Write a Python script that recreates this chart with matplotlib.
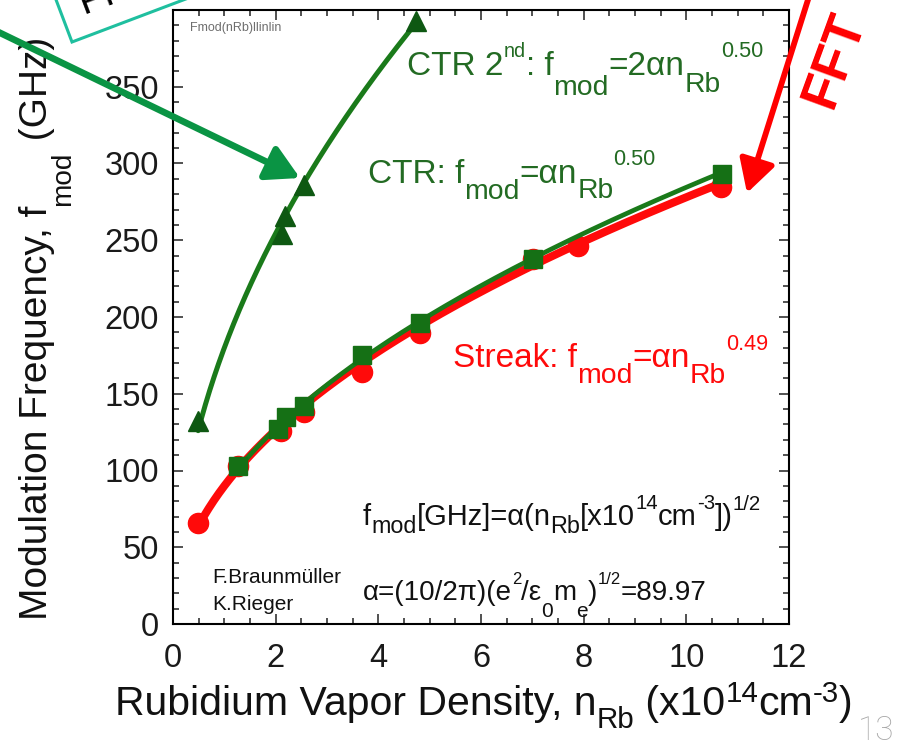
import numpy as np
import matplotlib
matplotlib.use("Agg")
import matplotlib.pyplot as plt
from matplotlib.ticker import MultipleLocator
from matplotlib.patches import Rectangle
from matplotlib.transforms import IdentityTransform

FONT = "Liberation Sans"
plt.rcParams["font.family"] = [FONT, "DejaVu Sans"]

# ---------------- data ----------------
ctr2_x = [0.49, 2.13, 2.18, 2.55, 4.73]
ctr2_y = [132, 254, 266, 286, 393]
ctr_x = [1.27, 2.05, 2.20, 2.55, 3.68, 4.81, 7.02, 10.70]
ctr_y = [103, 127, 135, 142, 175, 196, 238, 293]
streak_x = [0.49, 1.27, 2.10, 2.55, 3.68, 4.81, 7.02, 7.88, 10.68]
streak_y = [65.5, 103, 126, 138, 164, 189.5, 238, 246, 285]

# fit parameters stated on the chart
alpha = 89.97
ctr2_factor, ctr2_exp = 2.0, 0.50
ctr_exp = 0.50
streak_exp = 0.49

x_ticks = [0, 2, 4, 6, 8, 10, 12]
y_ticks = [0, 50, 100, 150, 200, 250, 300, 350]

GREEN_TXT = "#236b23"
GREEN_LINE = "#1a7a1a"
GREEN_SQ = "#157015"
GREEN_TRI = "#0e5812"
RED = "#ff0a0a"

fig = plt.figure(figsize=(9, 7.47), dpi=100)
ax = fig.add_axes([173 / 900, 1 - 624 / 747, 616 / 900, 614 / 747])
ax.set_xlim(0, 12)
ax.set_ylim(0, 400)

# fit curves
xs = np.linspace(min(streak_x), max(streak_x), 300)
ax.plot(xs, alpha * xs ** streak_exp, color=RED, lw=5.8, solid_capstyle="round", zorder=2)
ax.plot(streak_x, streak_y, "o", color=RED, ms=14.5, mec=RED, zorder=3)

xs = np.linspace(min(ctr_x), max(ctr_x), 300)
ax.plot(xs, alpha * xs ** ctr_exp, color=GREEN_LINE, lw=3.4, solid_capstyle="round", zorder=4)
ax.plot(ctr_x, ctr_y, "s", color=GREEN_SQ, ms=13, mec=GREEN_SQ, zorder=5)

xs = np.linspace(min(ctr2_x), max(ctr2_x), 300)
ax.plot(xs, ctr2_factor * alpha * xs ** ctr2_exp, color=GREEN_LINE, lw=3.6, solid_capstyle="round", zorder=4)
ax.plot(ctr2_x, ctr2_y, "^", color=GREEN_TRI, ms=14, mec=GREEN_TRI, zorder=5)

# axes styling
for s in ax.spines.values():
    s.set_linewidth(1.5)
ax.set_xticks(x_ticks)
ax.set_yticks(y_ticks)
ax.xaxis.set_minor_locator(MultipleLocator(0.5))
ax.yaxis.set_minor_locator(MultipleLocator(10))
ax.tick_params(which="both", direction="in", top=True, right=True, width=1.1, color="#222222")
ax.tick_params(which="major", length=7)
ax.tick_params(which="minor", length=4.5)
ax.tick_params(axis="x", which="major", labelsize=23.5, pad=14)
ax.tick_params(axis="y", which="major", labelsize=23.5, pad=10)
for lab in ax.get_xticklabels() + ax.get_yticklabels():
    lab.set_color("#1a1a1a")


def rich(parts, x, y, coords, size, color, rotation=0):
    prev = None
    for text, shift, scale in parts:
        common = dict(fontsize=size * scale, color=color, family=[FONT, "DejaVu Sans"],
                      annotation_clip=False, textcoords="offset points")
        if rotation == 0:
            if prev is None:
                xy, xyc = (x, y), coords
            else:
                xy, xyc = (1, y), (prev, coords)
            t = ax.annotate(text, xy=xy, xycoords=xyc, xytext=(0, shift * 0.72),
                            ha="left", va="baseline", **common)
        else:
            if prev is None:
                xy, xyc = (x, y), coords
            else:
                xy, xyc = (x, 1), (coords, prev)
            t = ax.annotate(text, xy=xy, xycoords=xyc, xytext=(-shift * 0.72, 0),
                            rotation=90, rotation_mode="anchor", ha="left", va="baseline", **common)
        prev = t


# in-plot annotations
rich([("CTR 2", 0, 1), ("nd", 18, 0.6), (": f", 0, 1), ("mod", -20, 0.85),
      ("=2\u03b1n", 0, 1), ("Rb", -17, 0.85), ("0.50", 18, 0.65)],
     4.56, 357.5, "data", 24, GREEN_TXT)
rich([("CTR: f", 0, 1), ("mod", -16, 0.85), ("=\u03b1n", 0, 1), ("Rb", -15, 0.85),
      ("0.50", 18, 0.65)], 3.80, 287, "data", 24, GREEN_TXT)
rich([("Streak: f", 0, 1), ("mod", -16, 0.85), ("=\u03b1n", 0, 1), ("Rb", -16, 0.85),
      ("0.49", 17, 0.65)], 5.45, 167.5, "data", 24, RED)
rich([("f", 0, 1), ("mod", -8, 0.8), ("[GHz]=\u03b1(n", 0, 1), ("Rb", -8, 0.8),
      ("[x10", 0, 1), ("14", 16, 0.7), ("cm", 0, 1), ("-3", 16, 0.7), ("])", 0, 1),
      ("1/2", 15, 0.7)], 3.70, 64.5, "data", 21, "#111111")
rich([("\u03b1=(10/2\u03c0)(e", 0, 1), ("2", 16, 0.6), ("/\u03b5", 0, 1), ("0", -17, 0.75),
      ("m", 0, 1), ("e", -17, 0.75), (")", 0, 1), ("1/2", 16, 0.6), ("=89.97", 0, 1)],
     3.70, 15.6, "data", 20, "#111111")
ax.text(0.76, 26.7, "F.Braunm\u00fcller", fontsize=15, color="#111111", va="baseline")
ax.text(0.76, 9.1, "K.Rieger", fontsize=15, color="#111111", va="baseline")
ax.text(0.33, 386, "Fmod(nRb)llinlin", fontsize=9, color="#6e6e6e", va="baseline")

# axis labels (figure pixels, origin bottom-left)
rich([("Rubidium Vapor Density, n", 0, 1), ("Rb", -13, 0.72), (" (x10", 0, 1),
      ("14", 13, 0.72), ("cm", 0, 1), ("-3", 13, 0.72), (")", 0, 1)],
     115, 747 - 715, "figure pixels", 29.5, "#111111")
rich([("Modulation Frequency, f", 0, 1), ("mod", -23, 0.72), (" (GHz)", 0, 1)],
     47, 747 - 620, "figure pixels", 28, "#111111", rotation=90)

# slide decorations outside the plot
ax.annotate("", xy=(300, 747 - 178), xycoords="figure pixels",
            xytext=(-10, 747 - 28), textcoords="figure pixels", annotation_clip=False,
            arrowprops=dict(arrowstyle="-|>,head_length=0.9,head_width=0.5", lw=4.8,
                            color="#0a9444", mutation_scale=22, shrinkA=0, shrinkB=0))
ax.annotate("", xy=(747, 747 - 193), xycoords="figure pixels",
            xytext=(812, 760), textcoords="figure pixels", annotation_clip=False,
            arrowprops=dict(arrowstyle="-|>,head_length=0.9,head_width=0.5", lw=4.2,
                            color="#ff0000", mutation_scale=22, shrinkA=0, shrinkB=0))
fig.text(835 / 900, 1 - 60 / 747, "FFT", color="#ff0000", fontsize=38, fontweight="bold",
         rotation=70, ha="center", va="center")
box = Rectangle((72, 747 - 42), 330, 120, angle=20.7, transform=IdentityTransform(),
                facecolor="white", edgecolor="#1fbf9f", lw=2.2)
fig.add_artist(box)
fig.text(84, 747 - 14, "Pro", transform=IdentityTransform(), fontsize=28, rotation=20.7,
         rotation_mode="anchor", ha="left", va="baseline", color="black")
fig.text(858, 747 - 740, "13", transform=IdentityTransform(), fontsize=24, color="#a8a8a8",
         family="Roboto", fontweight="light", ha="left", va="baseline")

fig.savefig("out.png", dpi=100)
